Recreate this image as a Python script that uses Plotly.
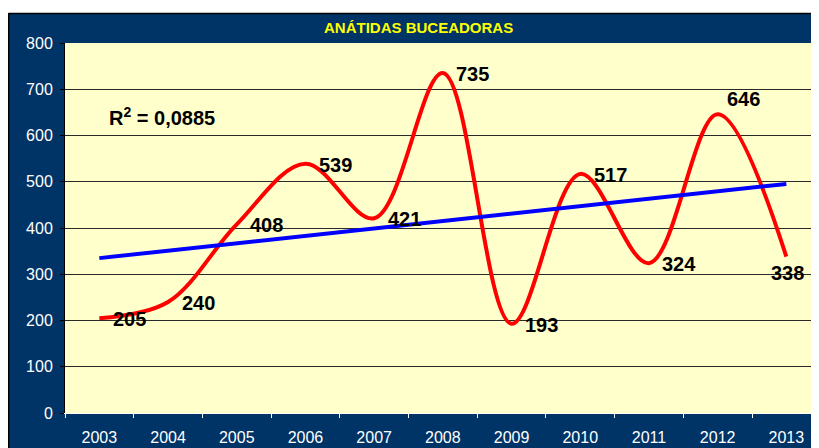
import numpy as np
import plotly.graph_objects as go

# ---- data ----
years = ["2003", "2004", "2005", "2006", "2007", "2008", "2009", "2010", "2011", "2012", "2013"]
counts = [205, 240, 408, 539, 421, 735, 193, 517, 324, 646, 338]
y_ticks = [0, 100, 200, 300, 400, 500, 600, 700, 800]
title_text = "ANÁTIDAS BUCEADORAS"
r2_text = "R<sup>2</sup> = 0,0885"

# ---- layout constants (pixels, figure coords; page body adds 8px offset) ----
W, H = 819, 448
OFF = 8
PL, PR, PT, PB = 57, 0, 35, 43
pw, ph = W - PL - PR, H - PT - PB
CAT_PX = 68.7  # pixel width of one category slot

def px_x(sx):
    # screen x -> paper x
    return (sx - OFF - PL) / pw

def px_y(sy):
    # screen y -> paper y
    return (H - PB - (sy - OFF)) / ph

NAVY = "#003366"
PLOTBG = "#FFFFCC"

# linear trend (derived from data)
xi = np.arange(1, len(counts) + 1)
slope, intercept = np.polyfit(xi, counts, 1)
trend = slope * xi + intercept

fig = go.Figure()
fig.add_trace(go.Scatter(
    x=years, y=counts, mode="lines",
    line=dict(color="#FF0000", width=4, shape="spline", smoothing=1.0),
    hoverinfo="skip", showlegend=False))
fig.add_trace(go.Scatter(
    x=years, y=trend, mode="lines",
    line=dict(color="#0000FF", width=4),
    hoverinfo="skip", showlegend=False))

# data labels
default_shift = (30, -1)
shift_override = {"2012": (26, 15), "2013": (1, -16)}
for i, (yr, v) in enumerate(zip(years, counts)):
    xs, ys = shift_override.get(yr, default_shift)
    fig.add_annotation(x=i, y=v, xref="x", yref="y", text=f"<b>{v}</b>", showarrow=False,
                       xshift=xs, yshift=ys,
                       font=dict(family="Liberation Sans, Arial, sans-serif", size=20, color="black"))

# R^2 text
fig.add_annotation(xref="paper", yref="paper", x=px_x(107), y=px_y(117),
                   xanchor="left", yanchor="middle", showarrow=False,
                   text=f"<b>{r2_text}</b>",
                   font=dict(family="Liberation Sans, Arial, sans-serif", size=20, color="black"))

# title
fig.add_annotation(xref="paper", yref="paper", x=px_x(418), y=px_y(27),
                   xanchor="center", yanchor="middle", showarrow=False,
                   text=f"<b>{title_text}</b>",
                   font=dict(family="Liberation Sans, Arial, sans-serif",
                             size=15, color="#FFFF00"))

# white strip above the navy box and its black border
fig.add_shape(type="rect", xref="paper", yref="paper", layer="above",
              x0=px_x(0), x1=px_x(840), y0=px_y(13), y1=px_y(0),
              fillcolor="white", line=dict(width=0))
fig.add_shape(type="line", xref="paper", yref="paper", layer="above",
              x0=px_x(8.5), x1=px_x(840), y0=px_y(13.5), y1=px_y(13.5),
              line=dict(color="black", width=1.5))
fig.add_shape(type="line", xref="paper", yref="paper", layer="above",
              x0=px_x(8.7), x1=px_x(8.7), y0=px_y(13.5), y1=px_y(470),
              line=dict(color="black", width=1.5))

fig.update_layout(
    width=W, height=H,
    margin=dict(l=PL, r=PR, t=PT, b=PB, autoexpand=False),
    paper_bgcolor=NAVY, plot_bgcolor=PLOTBG,
    font=dict(family="Liberation Sans, Arial, sans-serif", size=16, color="white"),
)
fig.update_xaxes(
    type="category", range=[-0.5, -0.5 + pw / CAT_PX],
    tickmode="array", tickvals=years, ticktext=years,
    tickson="boundaries", ticks="outside", ticklen=4, tickcolor="white", tickwidth=1,
    showline=True, linecolor="white", linewidth=1,
    showgrid=False, ticklabelstandoff=10,
    tickfont=dict(size=16, color="white"),
    fixedrange=True,
)
fig.update_yaxes(
    range=[0, 800], tickmode="array", tickvals=y_ticks, ticktext=[str(t) for t in y_ticks],
    ticks="outside", ticklen=4, tickcolor="black", tickwidth=1,
    showline=True, linecolor="black", linewidth=1,
    showgrid=True, gridcolor="#2a2a2a", gridwidth=1, zeroline=False,
    ticklabelstandoff=4,
    tickfont=dict(size=16, color="white"),
    fixedrange=True,
)

fig.write_html("out.html")
